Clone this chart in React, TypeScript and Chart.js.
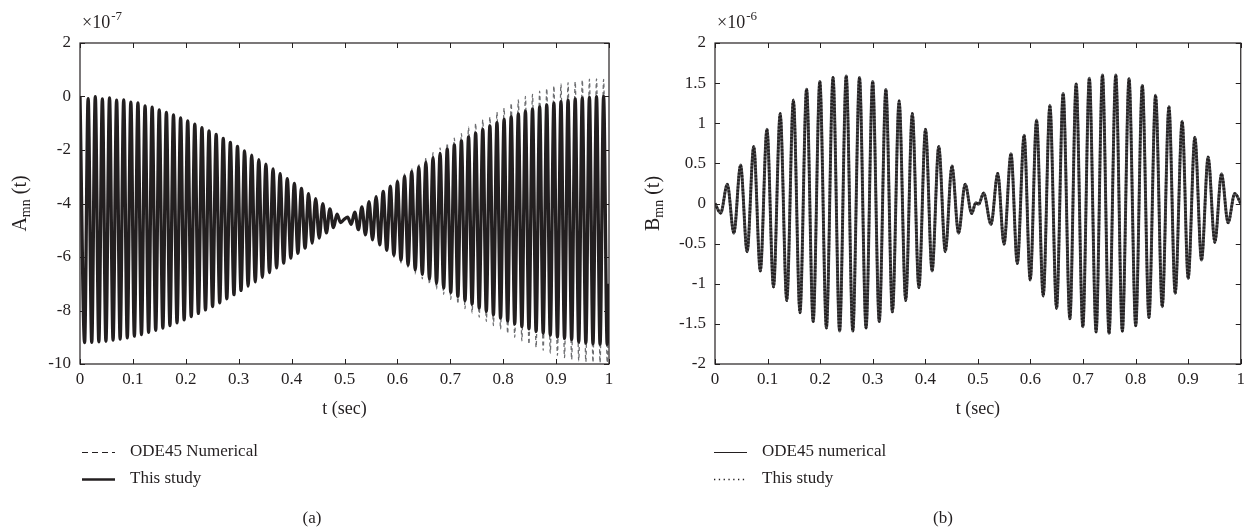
import React, { useEffect, useRef } from "react";
import { Chart, registerables } from "chart.js";

Chart.register(...registerables);

const FONT = '"Liberation Serif", "Times New Roman", serif';
const INK = "#231f20";

// ---------- Panel (a): extremes of A_mn(t), in units of 1e-7 ----------
const aTimes = [
  0, 0.0087, 0.0154, 0.0222, 0.0289, 0.0356, 0.0423, 0.049, 0.0558, 0.0625,
  0.0692, 0.0759, 0.0826, 0.0894, 0.0961, 0.1028, 0.1095, 0.1162, 0.123, 0.1297,
  0.1364, 0.1431, 0.1498, 0.1566, 0.1633, 0.17, 0.1767, 0.1834, 0.1902, 0.1969,
  0.2036, 0.2103, 0.217, 0.2238, 0.2305, 0.2372, 0.2439, 0.2506, 0.2574, 0.2641,
  0.2708, 0.2775, 0.2842, 0.291, 0.2977, 0.3044, 0.3111, 0.3178, 0.3246, 0.3313,
  0.338, 0.3447, 0.3514, 0.3582, 0.3649, 0.3716, 0.3783, 0.385, 0.3918, 0.3985,
  0.4052, 0.4119, 0.4186, 0.4254, 0.4321, 0.4388, 0.4455, 0.4522, 0.459, 0.4657,
  0.4724, 0.4791, 0.4858, 0.4926, 0.4993, 0.506, 0.5127, 0.5194, 0.5262, 0.5329,
  0.5396, 0.5463, 0.553, 0.5598, 0.5665, 0.5732, 0.5799, 0.5866, 0.5934, 0.6001,
  0.6068, 0.6135, 0.6202, 0.627, 0.6337, 0.6404, 0.6471, 0.6538, 0.6606, 0.6673,
  0.674, 0.6807, 0.6874, 0.6942, 0.7009, 0.7076, 0.7143, 0.721, 0.7278, 0.7345,
  0.7412, 0.7479, 0.7546, 0.7614, 0.7681, 0.7748, 0.7815, 0.7882, 0.795, 0.8017,
  0.8084, 0.8151, 0.8218, 0.8286, 0.8353, 0.842, 0.8487, 0.8554, 0.8622, 0.8689,
  0.8756, 0.8823, 0.889, 0.8958, 0.9025, 0.9092, 0.9159, 0.9226, 0.9294, 0.9361,
  0.9428, 0.9495, 0.9562, 0.963, 0.9697, 0.9764, 0.9831, 0.9898, 0.9966, 1,
];

const aStudy = [
  0, -9.2, -0.08, -9.19, -0.01, -9.17, -0.09, -9.15, -0.05, -9.11,
  -0.14, -9.07, -0.13, -9.02, -0.21, -8.96, -0.24, -8.9, -0.35, -8.82,
  -0.4, -8.74, -0.5, -8.66, -0.59, -8.56, -0.69, -8.46, -0.8, -8.35,
  -0.91, -8.23, -1.03, -8.11, -1.16, -7.98, -1.29, -7.85, -1.42, -7.71,
  -1.57, -7.56, -1.72, -7.41, -1.87, -7.25, -2.03, -7.09, -2.19, -6.93,
  -2.36, -6.76, -2.53, -6.58, -2.71, -6.41, -2.88, -6.23, -3.07, -6.04,
  -3.25, -5.86, -3.44, -5.67, -3.63, -5.48, -3.82, -5.29, -4.01, -5.1,
  -4.2, -4.9, -4.4, -4.71, -4.59, -4.51, -4.78, -4.32, -4.98, -4.13,
  -5.17, -3.93, -5.36, -3.74, -5.55, -3.55, -5.74, -3.36, -5.93, -3.18,
  -6.12, -2.99, -6.3, -2.81, -6.48, -2.64, -6.65, -2.46, -6.82, -2.29,
  -6.99, -2.13, -7.16, -1.97, -7.32, -1.81, -7.47, -1.66, -7.62, -1.51,
  -7.76, -1.37, -7.9, -1.23, -8.03, -1.1, -8.16, -0.98, -8.28, -0.86,
  -8.39, -0.75, -8.5, -0.65, -8.6, -0.56, -8.69, -0.47, -8.78, -0.39,
  -8.85, -0.31, -8.92, -0.25, -8.99, -0.19, -9.04, -0.14, -9.09, -0.09,
  -9.17, -0.06, -9.21, -0.03, -9.24, -0.01, -9.26, 0, -9.27, -7.0,
];

// ODE45 curve coincides with "This study" up to t ≈ 0.55, then these extremes
const aOde45Tail = [
  -3.73, -5.58, -3.51, -5.79, -3.3, -6.01, -3.1,
  -6.22, -2.89, -6.42, -2.69, -6.63, -2.5, -6.82, -2.29, -7.01, -2.1,
  -7.2, -1.92, -7.4, -1.74, -7.58, -1.56, -7.75, -1.39, -7.93, -1.15,
  -8.09, -1.0, -8.25, -0.87, -8.41, -0.76, -8.56, -0.58, -8.7, -0.43,
  -8.86, -0.25, -9.0, -0.13, -9.13, 0.0, -9.26, 0.08, -9.38, 0.2,
  -9.49, 0.3, -9.59, 0.4, -9.68, 0.47, -9.76, 0.52, -9.83, 0.56,
  -9.88, 0.62, -9.92, 0.65, -9.94, 0.66, -9.95, 0.64, -9.95, -7.3,
];
const aOde45 = [...aStudy.slice(0, 83), ...aOde45Tail];

// ---------- Panel (b): extremes of B_mn(t), in units of 1e-6 ----------
const bTimes = [
  0, 0.0108, 0.0234, 0.0359, 0.0486, 0.0611, 0.0737, 0.0862, 0.0988, 0.1113,
  0.124, 0.1365, 0.1491, 0.1616, 0.1742, 0.1867, 0.1994, 0.2119, 0.2245, 0.237,
  0.2496, 0.2621, 0.2748, 0.2873, 0.2999, 0.3124, 0.325, 0.3375, 0.3502, 0.3627,
  0.3753, 0.3878, 0.4004, 0.4129, 0.4256, 0.4381, 0.4507, 0.4632, 0.4758, 0.4883,
  0.496, 0.5015, 0.511, 0.525, 0.5378, 0.5497, 0.563, 0.575, 0.588, 0.5996,
  0.6116, 0.6243, 0.637, 0.6496, 0.6622, 0.675, 0.6869, 0.6996, 0.712, 0.7249,
  0.737, 0.7495, 0.7623, 0.7748, 0.7875, 0.8002, 0.8128, 0.8254, 0.838, 0.8507,
  0.8634, 0.8753, 0.8886, 0.9, 0.9127, 0.9254, 0.938, 0.9507, 0.9634, 0.9759,
  0.9886, 1,
];
const bOde45 = [
  0, -0.12, 0.24, -0.37, 0.48, -0.6, 0.71, -0.84, 0.925, -1.04,
  1.12, -1.21, 1.29, -1.36, 1.425, -1.47, 1.52, -1.55, 1.57, -1.59,
  1.59, -1.59, 1.57, -1.55, 1.52, -1.47, 1.42, -1.35, 1.28, -1.21,
  1.12, -1.05, 0.925, -0.84, 0.71, -0.6, 0.47, -0.37, 0.24, -0.125,
  0.01, -0.01, 0.13, -0.26, 0.375, -0.506, 0.62, -0.747, 0.85, -0.954,
  1.04, -1.153, 1.225, -1.307, 1.37, -1.436, 1.49, -1.535, 1.56, -1.6,
  1.6, -1.618, 1.6, -1.59, 1.555, -1.523, 1.47, -1.42, 1.35, -1.286,
  1.21, -1.12, 1.025, -0.934, 0.825, -0.705, 0.58, -0.485, 0.37, -0.24,
  0.125, 0,
];
// "This study" lies on top of the ODE45 curve
const bStudy = [...bOde45];

// ---------- axes ----------
const xTickValues = [0, 0.1, 0.2, 0.3, 0.4, 0.5, 0.6, 0.7, 0.8, 0.9, 1];
const aYTickValues = [-10, -8, -6, -4, -2, 0, 2];
const bYTickValues = [-2, -1.5, -1, -0.5, 0, 0.5, 1, 1.5, 2];

type SeriesDef = {
  label: string;
  values: number[];
  color: string;
  width: number;
  dash: number[];
  order: number;
  legendWidth: number;
  legendDash: number[];
};

type PanelDef = {
  times: number[];
  series: SeriesDef[];
  yTicks: number[];
  yAxisWidth: number;
  rightPad: number;
  yLetter: string;
  exponent: string;
  caption: string;
  captionX: number;
  legendX: number;
  yTitleX: number;
};

const panelA: PanelDef = {
  times: aTimes,
  series: [
    {
      label: "This study",
      values: aStudy,
      color: INK,
      width: 3.3,
      dash: [],
      order: 0,
      legendWidth: 2.6,
      legendDash: [],
    },
    {
      label: "ODE45 Numerical",
      values: aOde45,
      color: "#6d6e71",
      width: 1.3,
      dash: [4, 3],
      order: 1,
      legendWidth: 1,
      legendDash: [6, 4],
    },
  ],
  yTicks: aYTickValues,
  yAxisWidth: 80,
  rightPad: 16,
  yLetter: "A",
  exponent: "-7",
  caption: "(a)",
  captionX: 312,
  legendX: 82,
  yTitleX: 19,
};

const panelB: PanelDef = {
  times: bTimes,
  series: [
    {
      label: "This study",
      values: bStudy,
      color: INK,
      width: 2.6,
      dash: [2, 1.4],
      order: 0,
      legendWidth: 1.3,
      legendDash: [1.3, 3.5],
    },
    {
      label: "ODE45 numerical",
      values: bOde45,
      color: "#58595b",
      width: 3,
      dash: [],
      order: 1,
      legendWidth: 1.1,
      legendDash: [],
    },
  ],
  yTicks: bYTickValues,
  yAxisWidth: 90,
  rightPad: 8,
  yLetter: "B",
  exponent: "-6",
  caption: "(b)",
  captionX: 318,
  legendX: 89,
  yTitleX: 27,
};

function fmt(v: number): string {
  return String(Number(v.toFixed(2)));
}

function decorations(p: PanelDef) {
  return {
    id: "decorations",
    afterDraw(chart: any) {
      const { ctx, chartArea: ca } = chart;
      const xs = chart.scales.x;
      const ys = chart.scales.y;
      ctx.save();
      // frame
      ctx.strokeStyle = INK;
      ctx.lineWidth = 1.2;
      ctx.setLineDash([]);
      ctx.strokeRect(ca.left, ca.top, ca.right - ca.left, ca.bottom - ca.top);
      // inward ticks on all four sides
      ctx.lineWidth = 1;
      ctx.beginPath();
      for (const t of xs.ticks) {
        const px = Math.round(xs.getPixelForValue(t.value)) + 0.5;
        ctx.moveTo(px, ca.bottom);
        ctx.lineTo(px, ca.bottom - 5);
        ctx.moveTo(px, ca.top);
        ctx.lineTo(px, ca.top + 5);
      }
      for (const t of ys.ticks) {
        const py = Math.round(ys.getPixelForValue(t.value)) + 0.5;
        ctx.moveTo(ca.left, py);
        ctx.lineTo(ca.left + 5, py);
        ctx.moveTo(ca.right, py);
        ctx.lineTo(ca.right - 5, py);
      }
      ctx.stroke();

      ctx.fillStyle = INK;
      ctx.textBaseline = "alphabetic";

      // exponent label
      ctx.font = `18px ${FONT}`;
      ctx.textAlign = "left";
      const ex = ca.left + 2;
      ctx.fillText("\u00d710", ex, 28);
      const w10 = ctx.measureText("\u00d710").width;
      ctx.font = `13px ${FONT}`;
      ctx.fillText(p.exponent, ex + w10 + 1, 20);

      // y-axis title with subscript, rotated
      const main = `20px ${FONT}`;
      const sub = `14px ${FONT}`;
      ctx.font = main;
      const wL = ctx.measureText(p.yLetter).width;
      const wR = ctx.measureText(" (t)").width;
      ctx.font = sub;
      const wS = ctx.measureText("mn").width;
      const total = wL + wS + wR;
      ctx.save();
      ctx.translate(p.yTitleX, (ca.top + ca.bottom) / 2);
      ctx.rotate(-Math.PI / 2);
      let cx = -total / 2;
      ctx.font = main;
      ctx.fillText(p.yLetter, cx, 7);
      cx += wL;
      ctx.font = sub;
      ctx.fillText("mn", cx, 11);
      cx += wS;
      ctx.font = main;
      ctx.fillText(" (t)", cx, 7);
      ctx.restore();

      // x-axis title
      ctx.font = `18px ${FONT}`;
      ctx.textAlign = "center";
      ctx.textBaseline = "middle";
      ctx.fillText("t (sec)", (ca.left + ca.right) / 2, 409);

      // legend (ODE45 first, then This study)
      const legendOrder = [...p.series].sort((a, b) => b.order - a.order);
      legendOrder.forEach((s, i) => {
        const ly = 452 + i * 27;
        ctx.save();
        ctx.strokeStyle = INK;
        ctx.lineWidth = s.legendWidth;
        ctx.setLineDash(s.legendDash);
        ctx.beginPath();
        ctx.moveTo(p.legendX, ly + 0.5);
        ctx.lineTo(p.legendX + 33, ly + 0.5);
        ctx.stroke();
        ctx.restore();
        ctx.font = `17px ${FONT}`;
        ctx.textAlign = "left";
        ctx.textBaseline = "middle";
        ctx.fillText(s.label, p.legendX + 48, ly);
      });

      // caption
      ctx.textAlign = "center";
      ctx.fillText(p.caption, p.captionX, 519);
      ctx.restore();
    },
  };
}

function PanelChart({ p, left }: { p: PanelDef; left: number }) {
  const ref = useRef<HTMLCanvasElement | null>(null);
  useEffect(() => {
    if (!ref.current) return;
    const datasets = p.series.map((s) => ({
      label: s.label,
      data: p.times.map((t, i) => ({ x: t, y: s.values[i] })),
      borderColor: s.color,
      borderWidth: s.width,
      borderDash: s.dash,
      pointRadius: 0,
      fill: false,
      cubicInterpolationMode: "monotone" as const,
      order: s.order,
    }));
    const chart = new Chart(ref.current, {
      type: "line",
      data: { datasets },
      plugins: [decorations(p)],
      options: {
        animation: false,
        responsive: false,
        devicePixelRatio: 1,
        layout: { padding: { top: 43, right: p.rightPad, bottom: 0, left: 0 } },
        plugins: { legend: { display: false }, tooltip: { enabled: false }, title: { display: false } },
        scales: {
          x: {
            type: "linear",
            min: 0,
            max: 1,
            grid: { display: false, drawTicks: false },
            border: { display: false },
            afterBuildTicks: (scale: any) => {
              scale.ticks = xTickValues.map((v) => ({ value: v }));
            },
            afterFit: (scale: any) => {
              scale.height = 168;
            },
            ticks: {
              padding: 5,
              maxRotation: 0,
              autoSkip: false,
              color: INK,
              font: { family: FONT, size: 17 },
              callback: (v: any) => fmt(Number(v)),
            },
          },
          y: {
            type: "linear",
            min: p.yTicks[0],
            max: p.yTicks[p.yTicks.length - 1],
            grid: { display: false, drawTicks: false },
            border: { display: false },
            afterBuildTicks: (scale: any) => {
              scale.ticks = p.yTicks.map((v) => ({ value: v }));
            },
            afterFit: (scale: any) => {
              scale.width = p.yAxisWidth;
            },
            ticks: {
              padding: 9,
              autoSkip: false,
              color: INK,
              font: { family: FONT, size: 17 },
              callback: (v: any) => fmt(Number(v)),
            },
          },
        },
      },
    });
    return () => chart.destroy();
  }, [p]);
  return (
    <canvas
      ref={ref}
      width={625}
      height={532}
      style={{ position: "absolute", left, top: 0, width: 625, height: 532, display: "block" }}
    />
  );
}

export default function App() {
  return (
    <div
      style={{
        position: "absolute",
        left: 0,
        top: 0,
        width: 1250,
        height: 532,
        background: "#ffffff",
        overflow: "hidden",
      }}
    >
      <PanelChart p={panelA} left={0} />
      <PanelChart p={panelB} left={625} />
    </div>
  );
}
